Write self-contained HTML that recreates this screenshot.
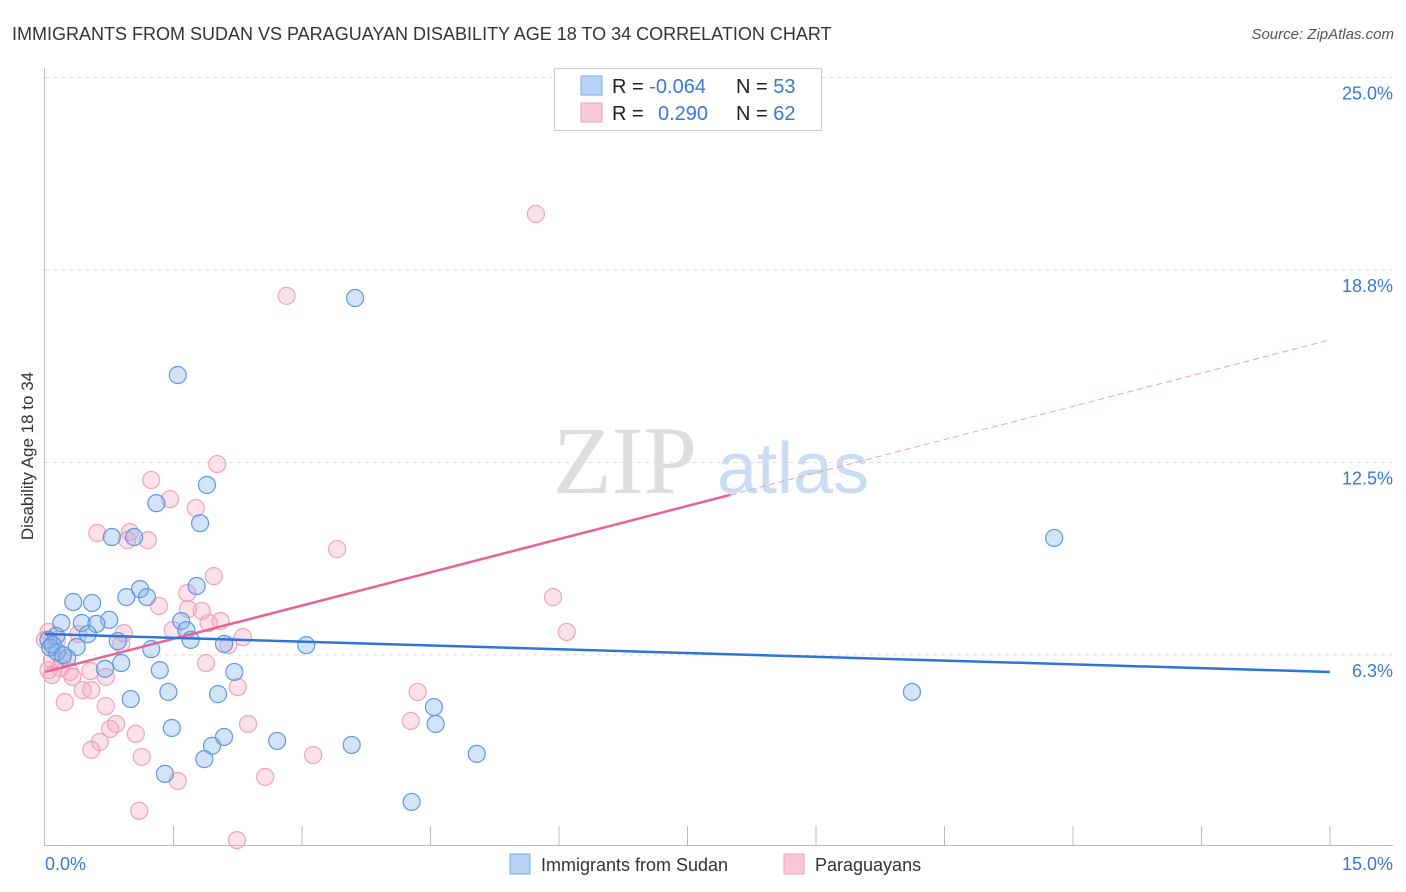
<!DOCTYPE html>
<html><head><meta charset="utf-8"><style>
body{margin:0;background:#fff;font-family:"Liberation Sans",sans-serif;}
svg{display:block}
</style></head><body>
<svg id="chart" width="1406" height="892" viewBox="0 0 1406 892" xmlns="http://www.w3.org/2000/svg" font-family="Liberation Sans, sans-serif">
<text x="12" y="40" font-size="18" fill="#333">IMMIGRANTS FROM SUDAN VS PARAGUAYAN DISABILITY AGE 18 TO 34 CORRELATION CHART</text>
<text x="1394" y="39" font-size="15" font-style="italic" fill="#555" text-anchor="end">Source: ZipAtlas.com</text>
<g>
<text x="553" y="493" font-size="96" font-family="Liberation Serif, serif" fill="#ddd">ZIP</text>
<text x="717" y="493" font-size="72" fill="#c9dcf2">atlas</text>
</g>
<g id="grid"></g>
<g id="axes"></g>
<text transform="translate(33,456) rotate(-90)" font-size="17" fill="#333" text-anchor="middle">Disability Age 18 to 34</text>
<g id="points"></g>
<g id="trends"></g>
<g>
<rect x="554.5" y="68.5" width="267" height="62" fill="#fff" stroke="#ccc"/>
<rect x="581" y="76" width="21" height="19" fill="#b8d3f5" stroke="#7aa8e6"/>
<rect x="581" y="103" width="21" height="19" fill="#fbc8d7" stroke="#eea0b8"/>
<text x="612" y="93" font-size="20" fill="#222">R = <tspan fill="#3a78d0">-0.064</tspan></text>
<text x="736" y="93" font-size="20" fill="#222">N = <tspan fill="#3a78d0">53</tspan></text>
<text x="612" y="120" font-size="20" fill="#222">R = <tspan fill="#3a78d0" x="658">0.290</tspan></text>
<text x="736" y="120" font-size="20" fill="#222">N = <tspan fill="#3a78d0">62</tspan></text>
</g>
<g>
<g><rect x="510" y="854" width="20" height="20" fill="#b8d3f5" stroke="#7aa8e6"/><text x="541" y="871" font-size="18" fill="#333">Immigrants from Sudan</text></g>
<g><rect x="784" y="854" width="20" height="20" fill="#fbc8d7" stroke="#eea0b8"/><text x="815" y="871" font-size="18" fill="#333">Paraguayans</text></g>
</g>
</svg>
<script>
const yTicks=[6.25,12.5,18.75,25];
const yTickLabels=["6.3%","12.5%","18.8%","25.0%"];
const xTicks=[1.5,3,4.5,6,7.5,9,10.5,12,13.5,15];
const sudanX=[3.62,1.55,1.89,1.30,1.81,0.78,1.04,1.77,1.11,0.95,1.19,0.33,0.55,0.75,0.19,0.43,0.60,1.59,1.65,0.50,1.70,0.85,0.13,0.04,0.37,1.24,2.09,3.05,0.14,0.26,0.70,0.89,1.34,2.21,1.00,1.44,2.02,1.48,2.09,1.95,2.71,3.58,1.86,1.40,4.54,4.56,5.04,4.28,11.78,10.12,0.06,0.09,0.21];
const sudanY=[17.84,15.34,11.77,11.18,10.53,10.08,10.08,8.49,8.39,8.13,8.13,7.97,7.94,7.39,7.29,7.29,7.26,7.35,7.06,6.93,6.74,6.70,6.87,6.74,6.51,6.44,6.61,6.57,6.35,6.15,5.80,5.99,5.76,5.70,4.82,5.05,4.98,3.88,3.59,3.30,3.46,3.33,2.87,2.39,4.56,4.01,3.04,1.48,10.05,5.05,6.49,6.58,6.25];
const paraX=[5.73,2.82,1.24,2.01,1.46,1.76,0.61,0.99,0.96,1.20,3.41,1.97,1.33,1.66,1.67,1.83,2.05,1.49,1.91,0.92,0.39,2.31,5.93,6.09,0.14,0.04,0.00,0.08,0.20,2.14,0.89,1.88,0.53,0.29,0.71,0.32,2.25,0.44,0.54,4.35,0.23,0.71,0.76,0.83,1.06,2.37,4.27,0.64,0.54,1.13,3.13,2.57,1.55,1.10,2.24,0.08,0.04,0.18];
const paraY=[20.57,17.91,11.93,12.45,11.31,11.02,10.21,10.24,9.98,9.98,9.69,8.81,7.84,8.26,7.74,7.68,7.35,7.06,7.29,6.96,6.93,6.83,8.13,7.00,6.74,7.00,6.74,6.09,6.09,6.57,6.61,5.99,5.73,5.70,5.54,5.54,5.21,5.11,5.11,5.05,4.72,4.59,3.85,4.01,3.69,4.01,4.11,3.43,3.17,2.94,3.00,2.29,2.16,1.19,0.24,5.60,5.76,5.83];
const sudanTrend=[6.93,5.70];
const paraTrend=[5.70,16.48];
const paraSolidEnd=8.0;

const NS="http://www.w3.org/2000/svg";
const X0=45,X1=1330,Y0=847.5,PXY=30.8;
const sx=v=>X0+v*(X1-X0)/15;
const sy=v=>Y0-v*PXY;
function mk(tag,attrs,parent){const e=document.createElementNS(NS,tag);for(const k in attrs)e.setAttribute(k,attrs[k]);parent.appendChild(e);return e;}
const grid=document.getElementById('grid'),axes=document.getElementById('axes');
yTicks.forEach((t,i)=>{
  const l=mk('line',{x1:45,x2:1392,y1:sy(t),y2:sy(t),stroke:'#ddd','stroke-dasharray':'4,4'},grid);
  
  
  const tx=mk('text',{x:1393,y:sy(t)+22,'font-size':18,fill:'#3a78d0','text-anchor':'end'},axes);
  tx.textContent=yTickLabels[i];
  
  
});
const ya=mk('line',{x1:44.5,x2:44.5,y1:68,y2:845,stroke:'#bbb'},axes);


const xa=mk('line',{x1:44,x2:1393,y1:845.5,y2:845.5,stroke:'#bbb'},axes);


xTicks.forEach(t=>{
  const l=mk('line',{x1:sx(t),x2:sx(t),y1:826,y2:845,stroke:'#bbb'},axes);
  
  
});
const xl0=mk('text',{x:45,y:870,'font-size':18,fill:'#3a78d0'},axes);xl0.textContent='0.0%';


const xl1=mk('text',{x:1393,y:870,'font-size':18,fill:'#3a78d0','text-anchor':'end'},axes);xl1.textContent='15.0%';


const pts=document.getElementById('points');
paraX.forEach((x,i)=>{
  const c=mk('circle',{cx:sx(x),cy:sy(paraY[i]),r:8.5,fill:'rgba(246,170,196,0.35)',stroke:'#efa2bb','stroke-width':1.2},pts);
  
  
});
sudanX.forEach((x,i)=>{
  const c=mk('circle',{cx:sx(x),cy:sy(sudanY[i]),r:8.5,fill:'rgba(130,178,236,0.35)',stroke:'#5f98e0','stroke-width':1.2},pts);
  
  
});
const tr=document.getElementById('trends');
const pv=x=>paraTrend[0]+(paraTrend[1]-paraTrend[0])*x/15;
const p1=mk('line',{x1:sx(0),y1:sy(paraTrend[0]),x2:sx(paraSolidEnd),y2:sy(pv(paraSolidEnd)),stroke:'#e8638f','stroke-width':2.5},tr);


const p2=mk('line',{x1:sx(paraSolidEnd),y1:sy(pv(paraSolidEnd)),x2:sx(15),y2:sy(paraTrend[1]),stroke:'#e8a0b8','stroke-width':1,'stroke-dasharray':'6,4'},tr);


const b1=mk('line',{x1:sx(0),y1:sy(sudanTrend[0]),x2:sx(15),y2:sy(sudanTrend[1]),stroke:'#2f74d8','stroke-width':2.5},tr);


</script>
</body></html>
